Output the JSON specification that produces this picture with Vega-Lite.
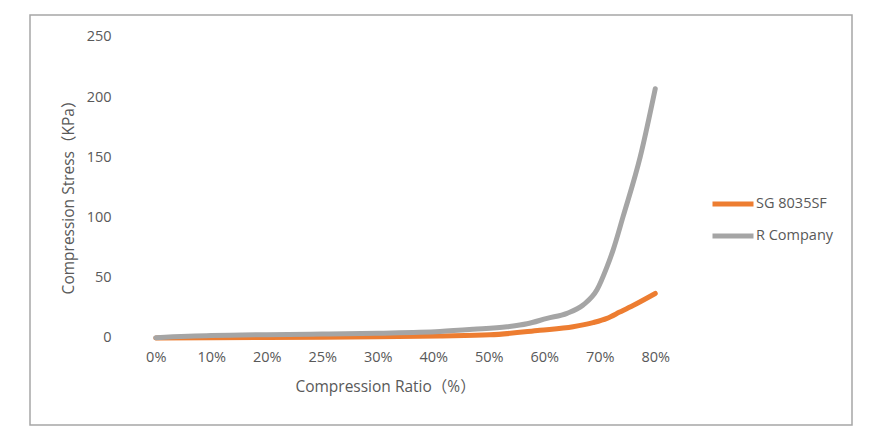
{
  "$schema": "https://vega.github.io/schema/vega-lite/v6.json",
  "width": 822,
  "height": 410,
  "autosize": {"type": "none"},
  "padding": {"left": 30, "top": 15, "right": 31, "bottom": 11},
  "background": "white",
  "view": {"stroke": "#a6a6a6", "strokeWidth": 1.5},
  "datasets": {
    "curves": [
      {"pos": 0, "series": "SG 8035SF", "stress": 0},
      {"pos": 1, "series": "SG 8035SF", "stress": 0.2},
      {"pos": 2, "series": "SG 8035SF", "stress": 0.4},
      {"pos": 3, "series": "SG 8035SF", "stress": 0.6},
      {"pos": 4, "series": "SG 8035SF", "stress": 1.0},
      {"pos": 5.12, "series": "SG 8035SF", "stress": 1.7},
      {"pos": 6.02, "series": "SG 8035SF", "stress": 2.6},
      {"pos": 6.92, "series": "SG 8035SF", "stress": 6.4},
      {"pos": 7.52, "series": "SG 8035SF", "stress": 9.4},
      {"pos": 7.88, "series": "SG 8035SF", "stress": 12.8},
      {"pos": 8.13, "series": "SG 8035SF", "stress": 16.3},
      {"pos": 8.36, "series": "SG 8035SF", "stress": 21.5},
      {"pos": 8.6, "series": "SG 8035SF", "stress": 27},
      {"pos": 9, "series": "SG 8035SF", "stress": 37},
      {"pos": 0, "series": "R Company", "stress": 0.3},
      {"pos": 1, "series": "R Company", "stress": 2.0},
      {"pos": 2, "series": "R Company", "stress": 2.8},
      {"pos": 3, "series": "R Company", "stress": 3.3},
      {"pos": 4, "series": "R Company", "stress": 4.0},
      {"pos": 5.12, "series": "R Company", "stress": 5.4},
      {"pos": 5.72, "series": "R Company", "stress": 7.2},
      {"pos": 6.33, "series": "R Company", "stress": 9.4},
      {"pos": 6.69, "series": "R Company", "stress": 11.8},
      {"pos": 7.05, "series": "R Company", "stress": 16.3},
      {"pos": 7.41, "series": "R Company", "stress": 20.5},
      {"pos": 7.7, "series": "R Company", "stress": 27.4},
      {"pos": 7.95, "series": "R Company", "stress": 40},
      {"pos": 8.13, "series": "R Company", "stress": 59},
      {"pos": 8.24, "series": "R Company", "stress": 73},
      {"pos": 8.42, "series": "R Company", "stress": 100.8},
      {"pos": 8.73, "series": "R Company", "stress": 150.6},
      {"pos": 9, "series": "R Company", "stress": 207}
    ],
    "grid": [
      {"level": 0}, {"level": 50}, {"level": 100},
      {"level": 150}, {"level": 200}, {"level": 250}
    ]
  },
  "layer": [
    {
      "data": {"name": "grid"},
      "mark": {"type": "rule", "color": "#d9d9d9", "strokeWidth": 1},
      "encoding": {
        "x": {"datum": -0.5, "type": "quantitative"},
        "x2": {"datum": 9.5},
        "y": {"field": "level", "type": "quantitative"}
      }
    },
    {
      "data": {"name": "curves"},
      "transform": [{"filter": "datum.series === 'SG 8035SF'"}],
      "mark": {"type": "line", "interpolate": "monotone", "strokeWidth": 5, "strokeCap": "round"},
      "encoding": {
        "x": {"field": "pos", "type": "quantitative"},
        "y": {"field": "stress", "type": "quantitative"},
        "color": {"field": "series", "type": "nominal"}
      }
    },
    {
      "data": {"name": "curves"},
      "transform": [{"filter": "datum.series === 'R Company'"}],
      "mark": {"type": "line", "interpolate": "monotone", "strokeWidth": 5, "strokeCap": "round"},
      "encoding": {
        "x": {"field": "pos", "type": "quantitative"},
        "y": {"field": "stress", "type": "quantitative"},
        "color": {"field": "series", "type": "nominal"}
      }
    }
  ],
  "encoding": {
    "x": {
      "type": "quantitative",
      "scale": {"domain": [-2.266, 12.545], "nice": false, "zero": false},
      "axis": {
        "title": "Compression Ratio（%）",
        "values": [0, 1, 2, 3, 4, 5, 6, 7, 8, 9],
        "labelExpr": "['0%','10%','20%','25%','30%','40%','50%','60%','70%','80%'][datum.value]",
        "offset": -87,
        "labelPadding": 12,
        "titlePadding": 16,
        "titleX": 355,
        "titleAlign": "center",
        "domain": false,
        "ticks": false,
        "grid": false
      }
    },
    "y": {
      "type": "quantitative",
      "scale": {"domain": [-72.26, 268.27], "nice": false, "zero": false},
      "axis": {
        "title": "Compression Stress（KPa）",
        "values": [0, 50, 100, 150, 200, 250],
        "offset": -90,
        "labelPadding": 9,
        "titleX": -52,
        "titleY": 178,
        "titleAlign": "center",
        "titleBaseline": "middle",
        "titleAngle": -90,
        "domain": false,
        "ticks": false,
        "grid": false
      }
    },
    "color": {
      "field": "series",
      "type": "nominal",
      "scale": {"domain": ["SG 8035SF", "R Company"], "range": ["#ed7d31", "#a5a5a5"]},
      "legend": {
        "title": null,
        "orient": "none",
        "legendX": 680,
        "legendY": 181,
        "padding": 0,
        "symbolType": "stroke",
        "symbolSize": 1681,
        "symbolStrokeWidth": 5,
        "clipHeight": 16,
        "rowPadding": 16,
        "labelOffset": 0,
        "labelFontSize": 14.5,
        "labelColor": "#595959",
        "labelFont": "Open Sans, Noto Sans CJK SC"
      }
    }
  },
  "config": {
    "axis": {
      "labelFont": "Open Sans, Noto Sans CJK SC",
      "titleFont": "Open Sans, Noto Sans CJK SC",
      "labelFontSize": 14.5,
      "titleFontSize": 15.5,
      "titleFontWeight": "normal",
      "labelColor": "#595959",
      "titleColor": "#595959"
    }
  }
}
